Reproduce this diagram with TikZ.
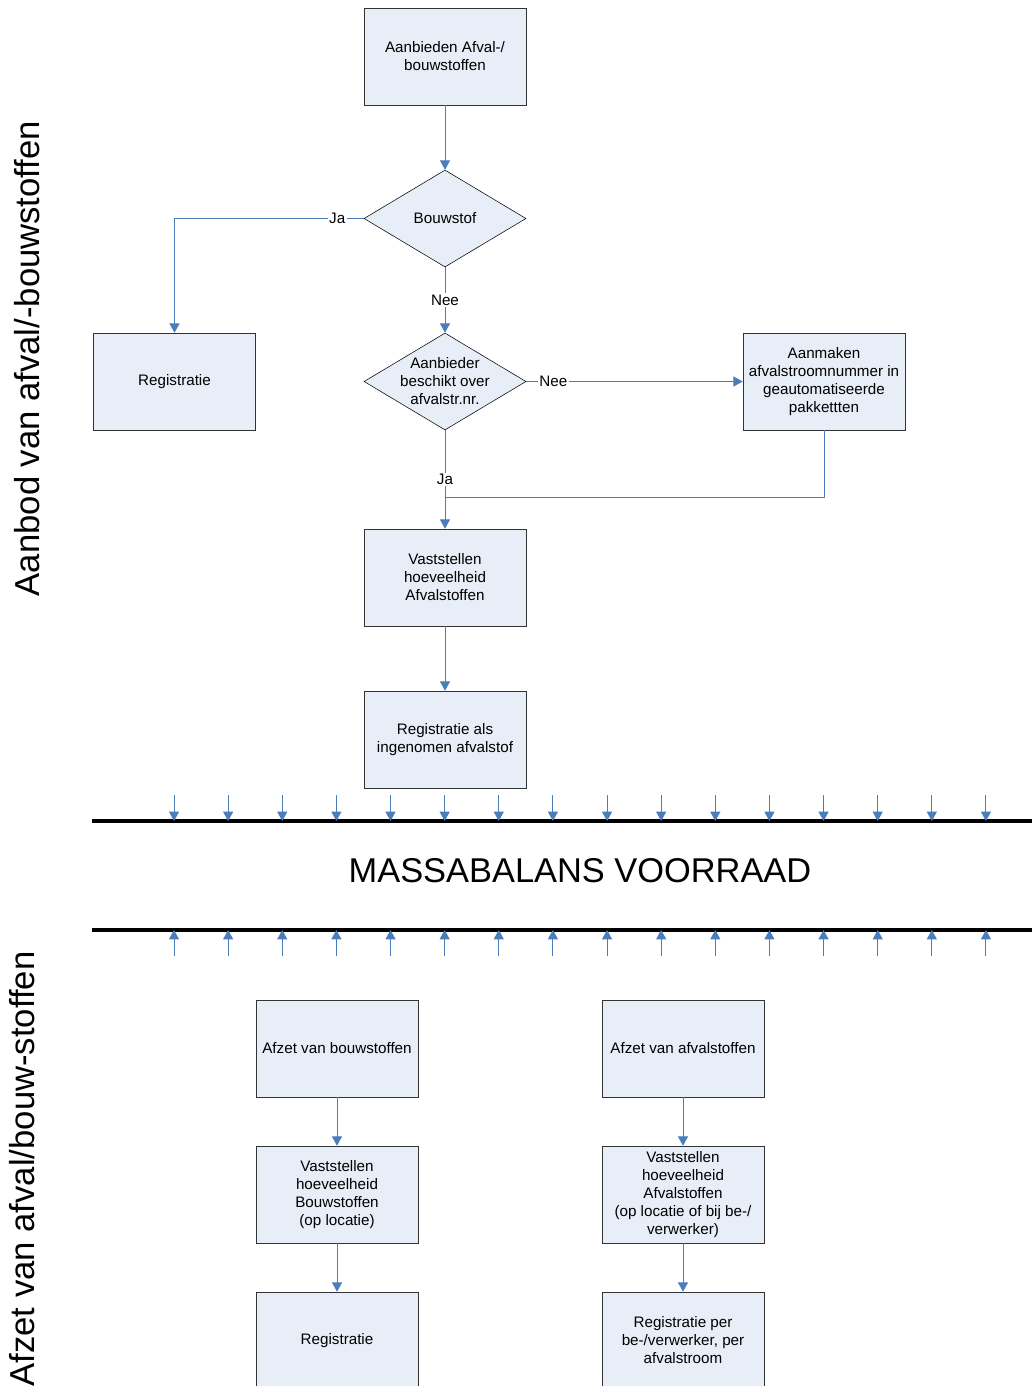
\documentclass[tikz,border=0pt]{standalone}
\usepackage{fontspec}
\setmainfont{Liberation Sans}
\usetikzlibrary{shapes.geometric,arrows.meta}
\definecolor{boxfill}{RGB}{232,238,247}
\definecolor{flow}{RGB}{74,126,187}

\begin{document}
\begin{tikzpicture}[x=0.75pt,y=-0.75pt,
  stepbox/.style={draw=black!80,fill=boxfill,minimum width=121.5pt,minimum height=72.75pt,inner sep=0,align=center,font=\fontsize{11.4}{13.5}\selectfont},
  decision/.style={draw=black,fill=boxfill,diamond,aspect=1.67,minimum width=121.5pt,minimum height=72.75pt,inner sep=0},
  txt/.style={align=center,font=\fontsize{11.4}{13.5}\selectfont,inner sep=0},
  flow/.style={draw=flow,line width=0.75pt,-{Triangle[width=7.5pt,length=7pt]}},
  link/.style={draw=flow,line width=0.75pt},
  tag/.style={fill=white,inner sep=1pt,font=\fontsize{11.4}{12}\selectfont}]
\useasboundingbox (0,0) rectangle (1032,1386);

% aanbod
\node [stepbox] (aanbied) at (445,56.5) {Aanbieden Afval-/\\bouwstoffen};
\node [decision] (bouw) at (445,218.5) {};
\node [txt] (bouwtxt) at (bouw) {Bouwstof};
\node [stepbox] (reg) at (174.5,381.5) {Registratie};
\node [decision] (beschikt) at (445,381.5) {};
\node [txt] (beschikttxt) at (beschikt) {Aanbieder\\beschikt over\\afvalstr.nr.};
\node [stepbox] (aanmaak) at (824,381.5) {Aanmaken\\afvalstroomnummer in\\geautomatiseerde\\pakkettten};
\node [stepbox] (vast) at (445,577.5) {Vaststellen\\hoeveelheid\\Afvalstoffen};
\node [stepbox] (regin) at (445,739.5) {Registratie als\\ingenomen afvalstof};
\coordinate (join) at (445,497);

\draw [flow] (aanbied) -- (bouw);
\draw [flow] (bouw.west) -| node [tag,pos=0.07] {Ja} (reg.north);
\draw [flow] (bouw) -- node [tag] {Nee} (beschikt);
\draw [flow] (beschikt.east) -- node [tag,pos=0.125] {Nee} (aanmaak.west);
\draw [flow] (beschikt) -- node [tag] {Ja} (vast);
\draw [link] (aanmaak.south) |- (join);
\draw [flow] (vast) -- (regin);

% massabalans
\draw [line width=3pt] (92,821) -- (1032,821);
\draw [line width=3pt] (92,930) -- (1032,930);
\node (massa) at (580,871) {\fontsize{25.8}{30}\selectfont MASSABALANS VOORRAAD};
\foreach \i in {0,...,15} {
  \coordinate (in\i) at (174+54.13*\i,795);
  \coordinate (uit\i) at (174+54.13*\i,956);
  \draw [flow] (in\i) -- ++(0,26);
  \draw [flow] (uit\i) -- ++(0,-26);
}

% afzet
\node [stepbox] (afbouw) at (337,1048.5) {Afzet van bouwstoffen};
\node [stepbox] (vastbouw) at (337,1194.5) {Vaststellen\\hoeveelheid\\Bouwstoffen\\(op locatie)};
\node [stepbox] (regbouw) at (337,1340.5) {Registratie};
\node [stepbox] (afafval) at (683,1048.5) {Afzet van afvalstoffen};
\node [stepbox] (vastafval) at (683,1194.5) {Vaststellen\\hoeveelheid\\Afvalstoffen\\(op locatie of bij be-/\\verwerker)};
\node [stepbox] (regafval) at (683,1340.5) {Registratie per\\be-/verwerker, per\\afvalstroom};
\draw [flow] (afbouw) -- (vastbouw);
\draw [flow] (vastbouw) -- (regbouw);
\draw [flow] (afafval) -- (vastafval);
\draw [flow] (vastafval) -- (regafval);

% zijlabels
\node [rotate=90] (aanbod) at (27,358.5) {\fontsize{26}{30}\selectfont Aanbod van afval/-bouwstoffen};
\node [rotate=90] (afzet) at (22,1169) {\fontsize{26}{30}\selectfont Afzet van afval/bouw-stoffen};
\end{tikzpicture}
\end{document}
